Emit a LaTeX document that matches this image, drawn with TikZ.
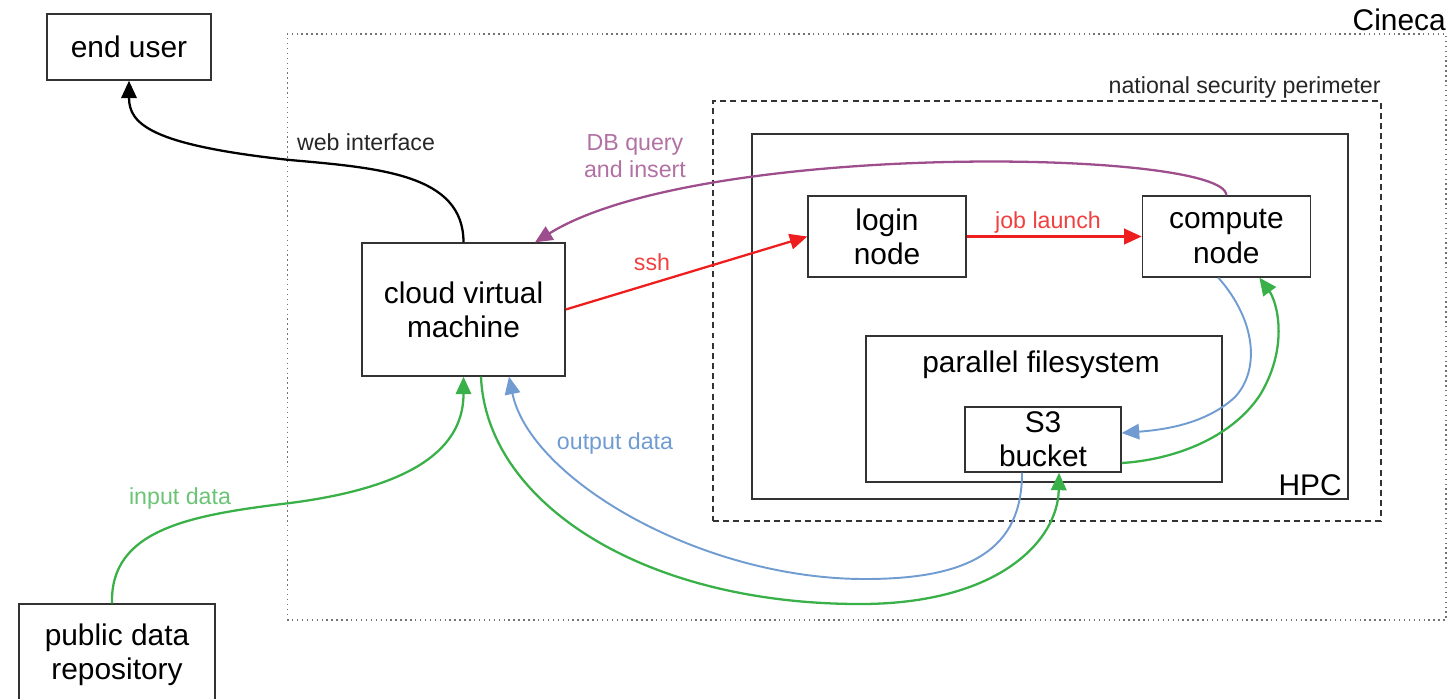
\documentclass[tikz,border=0pt]{standalone}
\usepackage{fontspec}
\setmainfont{Liberation Sans}
\usepackage{xcolor}
\usetikzlibrary{positioning,arrows.meta}

\definecolor{flowgreen}{RGB}{58,176,72}
\definecolor{outblue}{RGB}{112,156,210}
\definecolor{sshred}{RGB}{238,30,30}
\definecolor{dbpurple}{RGB}{158,78,140}

\begin{document}
\begin{tikzpicture}[
    x=0.02cm, y=-0.02cm,
    box/.style={rectangle, draw=black!80, line width=0.8pt, fill=white, align=center, inner sep=2pt, font=\fontsize{17}{19.5}\selectfont},
    region/.style={rectangle, draw=black!80, line width=0.8pt, inner sep=0pt},
    title/.style={inner sep=0pt, font=\fontsize{17}{19.5}\selectfont},
    tag/.style={inner sep=0pt, align=center, font=\fontsize{13.2}{15.5}\selectfont},
    arrow/.style={-{Triangle[length=3.5mm,width=3.1mm]}, line width=1.3pt},
    node distance=1.1cm
]
\useasboundingbox (0,0) rectangle (1452,698);

% Nested regions (outer to inner)
\node[region, draw=black!55, dotted, line width=0.7pt, minimum width=23.18cm, minimum height=11.72cm] (cineca) at (866.5,327) {};
\node[title, anchor=base east] (cinecalabel) at (1446,30) {Cineca};

\node[region, dashed, dash pattern=on 3.4pt off 2.4pt, line width=1pt, minimum width=13.36cm, minimum height=8.4cm] (perimeter) at (1047,311) {};
\node[tag, anchor=base east, text=black!85] (perimeterlabel) at (1381,93) {national security perimeter};

\node[region, minimum width=11.92cm, minimum height=7.3cm] (hpc) at (1050,316.5) {};
\node[title, anchor=base east] (hpclabel) at (1342,495) {HPC};

\node[region, minimum width=7.12cm, minimum height=2.92cm] (pfs) at (1044,409) {};
\node[title, anchor=base] (pfslabel) at (1041,372) {parallel filesystem};

% Boxes
\node[box, minimum width=3.28cm, minimum height=1.32cm] (enduser) at (129,47) {end user};
\node[box, minimum width=4.06cm, minimum height=2.66cm] (vm) at (463.5,309.5) {cloud virtual\\machine};
\node[box, minimum width=3.16cm, minimum height=1.62cm] (login) at (887,236.5) {login\\node};
\node[box, minimum width=3.36cm, minimum height=1.62cm, right=3.5cm of login] (compute) {compute\\node};
\node[box, minimum width=3.12cm, minimum height=1.3cm] (s3) at (1043,439.5) {S3\\bucket};
\node[box, minimum width=3.92cm, minimum height=2.04cm] (pubrepo) at (117,655) {public data\\repository};

% Connectors
\draw[arrow, black] (vm.north) .. controls +(0,-68) and (380,168) .. (290,160) .. controls (150,145) and +(0,43) .. (enduser.south);
\node[tag, text=black!85] (lblweb) at (366,142) {web interface};

\draw[arrow, dbpurple] (compute.north) .. controls +(0,-46) and (700,140) .. ([xshift=1.43cm]vm.north);
\node[tag, text=dbpurple!80] (lbldb) at (635,156) {DB query\\and insert};

\draw[arrow, sshred] (vm.east) -- (login.west);
\node[tag, text=sshred!85] (lblssh) at (652,262) {ssh};

\draw[arrow, sshred] (login.east) -- (compute.west);
\node[tag, text=sshred!85] (lbljob) at (1048,222) {job launch};

\draw[arrow, outblue, line width=1.1pt] ([xshift=-0.16cm]compute.south) .. controls +(38,43) and (1260,370) .. (1235,397) .. controls (1205,425) and +(39,-3) .. ([yshift=0.13cm]s3.east);
\draw[arrow, flowgreen] ([yshift=-0.47cm]s3.east) .. controls +(49,-3) and (1230,440) .. (1260,395) .. controls (1290,345) and +(17,23) .. ([xshift=0.66cm]compute.south);

\draw[arrow, flowgreen] ([xshift=0.35cm]vm.south) .. controls +(5,124) and (640,604) .. (860,604) .. controls (1000,604) and +(-1,67) .. ([xshift=0.32cm]s3.south);
\draw[arrow, outblue, line width=1.1pt] ([xshift=-0.42cm]s3.south) .. controls +(0,77) and (970,579) .. (865,579) .. controls (700,579) and +(21,102) .. ([xshift=0.91cm]vm.south);
\node[tag, text=outblue] (lblout) at (615,443) {output data};

\draw[arrow, flowgreen] ([xshift=-0.1cm]pubrepo.north) .. controls +(-2,-74) and (190,515) .. (290,503) .. controls (430,485) and +(0,62) .. (vm.south);
\node[tag, text=flowgreen!75] (lblin) at (180,498) {input data};

\end{tikzpicture}
\end{document}
